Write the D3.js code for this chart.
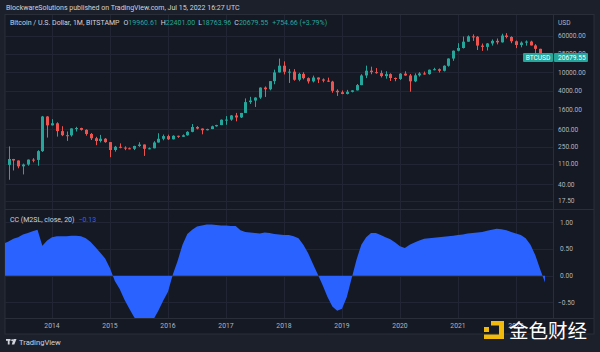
<!DOCTYPE html>
<html>
<head>
<meta charset="utf-8">
<script src="https://cdn.jsdelivr.net/npm/d3@7"></script>
<style>
    html, body { margin: 0; padding: 0; background: #1c202b; }
    svg { display: block; font-family: Roboto, "Open Sans", sans-serif; }
</style>
</head>
<body>
<div id="chart"></div>
<script>
// ---- data (monthly BTCUSD, Bitstamp, from 2013-04) ----
const firstCandle = "2013-04";
const opens = [
    104, 139, 129, 97, 106, 135, 133, 205, 1130,
    732, 810, 550, 450, 447, 628, 640, 586, 478, 387, 338, 378,
    320, 217, 254, 244, 236, 230, 264, 284, 230, 236, 314, 377,
    430, 368, 437, 416, 448, 531, 673, 624, 575, 609, 698, 742,
    964, 970, 1190, 1080, 1348, 2300, 2480, 2875, 4703, 4338, 6468, 9947,
    13850, 10265, 10320, 6925, 9240, 7495, 6390, 7730, 7025, 6625, 6320, 4017,
    3742, 3437, 3820, 4100, 5320, 8555, 10820, 10085, 9600, 8300, 9150, 7550,
    7195, 9350, 8545, 6410, 8625, 9450, 9135, 11350, 11650, 10780, 13800, 19700,
    28990, 33110, 45240, 58800, 57750, 37300, 35040, 41460, 47130, 43820, 61300, 57000,
    46200, 38480, 43190, 45530, 37640, 31790, 19960.61
];
const highs = [
    259, 140, 130, 111, 136, 145, 215, 1163, 1153,
    990, 850, 700, 540, 632, 680, 650, 600, 500, 415, 457, 390,
    320, 265, 300, 260, 245, 268, 318, 285, 246, 335, 495, 465,
    462, 448, 440, 467, 548, 780, 704, 628, 620, 720, 752, 975,
    1154, 1210, 1350, 1350, 2760, 2980, 2920, 4750, 4980, 6480, 11400, 19666,
    17150, 11790, 11690, 9760, 10020, 7780, 8500, 7760, 7400, 7680, 6575, 4310,
    4080, 4200, 4125, 5620, 9090, 13880, 13200, 12320, 10950, 10530, 9500, 7740,
    9580, 10500, 9200, 9470, 10080, 10380, 11450, 12480, 12100, 14100, 19880, 29300,
    41950, 58350, 61790, 64900, 59600, 41330, 42400, 50500, 52900, 67000, 69000, 59100,
    47990, 45850, 48200, 47440, 40000, 31950, 22401.00
];
const lows = [
    50, 79, 88, 65, 100, 118, 100, 197, 400,
    725, 420, 430, 340, 420, 540, 565, 440, 355, 275, 315, 310,
    152, 200, 236, 215, 225, 216, 253, 162, 225, 235, 312, 350,
    355, 365, 395, 412, 440, 520, 600, 470, 570, 606, 685, 740,
    752, 915, 891, 1050, 1345, 2100, 1810, 2690, 2970, 4110, 5550, 9900,
    9000, 5920, 6600, 6430, 7040, 5750, 6070, 5880, 6100, 6200, 3650, 3120,
    3400, 3360, 3715, 4080, 5300, 7500, 9090, 9350, 7750, 7300, 6515, 6430,
    6860, 8450, 3850, 6160, 8110, 8900, 8900, 10980, 9880, 10420, 13200, 17600,
    28130, 32300, 45000, 47040, 30000, 28800, 29300, 37330, 39600, 43290, 53250, 42000,
    32950, 34300, 37150, 37580, 25400, 17600, 18763.96
];
const closes = [
    139, 129, 97, 106, 135, 133, 205, 1130, 732,
    810, 550, 450, 447, 628, 640, 586, 478, 387, 338, 378, 320,
    217, 254, 244, 236, 230, 264, 284, 230, 236, 314, 377, 430,
    368, 437, 416, 448, 531, 673, 624, 575, 609, 698, 742, 964,
    970, 1190, 1080, 1348, 2300, 2480, 2875, 4703, 4338, 6468, 9947, 13850,
    10265, 10320, 6925, 9240, 7495, 6390, 7730, 7025, 6625, 6320, 4017, 3742,
    3437, 3820, 4100, 5320, 8555, 10820, 10085, 9600, 8300, 9150, 7550, 7195,
    9350, 8545, 6410, 8625, 9450, 9135, 11350, 11650, 10780, 13800, 19700, 28990,
    33110, 45240, 58800, 57750, 37300, 35040, 41460, 47130, 43820, 61300, 57000, 46200,
    38480, 43190, 45530, 37640, 31790, 19924.89, 20679.55
];

// CC(M2SL, close, 20), monthly from 2013-03
const firstCC = "2013-03";
const ccValues = [
    0.60, 0.64, 0.69, 0.72, 0.77, 0.80, 0.83, 0.86, 0.56, 0.66,
    0.72, 0.74, 0.74, 0.74, 0.75, 0.75, 0.74, 0.70, 0.63, 0.53,
    0.43, 0.32, 0.14, -0.10, -0.25, -0.45, -0.62, -0.78, -0.88, -0.92,
    -0.90, -0.82, -0.66, -0.47, -0.30, 0.02, 0.28, 0.58, 0.78, 0.86,
    0.92, 0.94, 0.96, 0.96, 0.95, 0.94, 0.94, 0.93, 0.93, 0.85,
    0.82, 0.81, 0.80, 0.79, 0.81, 0.80, 0.78, 0.77, 0.76, 0.76,
    0.74, 0.70, 0.58, 0.42, 0.22, 0.02, -0.18, -0.40, -0.58, -0.66,
    -0.62, -0.40, -0.05, 0.30, 0.58, 0.72, 0.80, 0.80, 0.76, 0.72,
    0.68, 0.62, 0.55, 0.52, 0.58, 0.62, 0.66, 0.69, 0.70, 0.71,
    0.72, 0.73, 0.74, 0.75, 0.76, 0.77, 0.79, 0.80, 0.81, 0.82,
    0.84, 0.86, 0.88, 0.87, 0.85, 0.82, 0.79, 0.76, 0.70, 0.58,
    0.38, 0.12, -0.13
];

const priceTicks = [60000, 25000, 10000, 4000, 1600, 600, 250, 110, 40, 17.5];
const ccTicks = [1, 0.5, 0, -0.5];
const yearLabels = ["2014", "2015", "2016", "2017", "2018", "2019", "2020", "2021", "2022"];

// ---- layout ----
const W = 600, H = 352;
const pane = { left: 5, right: 553, axisRight: 594 };
const pricePane = { top: 15, bottom: 209 };
const ccPane = { top: 210, bottom: 318 };
const timeAxisBottom = 334;

const up = "#26a69a", down = "#ef5350", ccBlue = "#2962ff";
const gridColor = "#222634", borderColor = "#2a2e39", textColor = "#b2b5be";

// month index 0 = 2013-03
const parseMonth = d3.utcParse("%Y-%m");
const monthIndex = s => d3.utcMonth.count(parseMonth(firstCC), parseMonth(s));
const candleStart = monthIndex(firstCandle);
const yearIndex = y => monthIndex(y + "-01");

const x = d3.scaleLinear()
    .domain([yearIndex("2014"), yearIndex("2021")])
    .range([52, 458]);

const yPrice = d3.scaleLog()
    .domain([10000, 60000])
    .range([72.3, 72.3 - Math.log10(6) * 46.7]);

const yCC = d3.scaleLinear()
    .domain([-0.5, 1])
    .range([302.3, 222.3]);

const svg = d3.select("#chart").append("svg")
    .attr("width", W)
    .attr("height", H);

// backgrounds
svg.append("rect").attr("width", W).attr("height", H).attr("fill", "#1c202b");
svg.append("rect")
    .attr("x", pane.left).attr("y", pricePane.top - 0.5)
    .attr("width", pane.axisRight - pane.left).attr("height", timeAxisBottom - pricePane.top + 0.5)
    .attr("fill", "#151924")
    .attr("stroke", borderColor);

const defs = svg.append("defs");
defs.append("clipPath").attr("id", "clip-price").append("rect")
    .attr("x", pane.left).attr("y", pricePane.top)
    .attr("width", pane.right - pane.left).attr("height", pricePane.bottom - pricePane.top);
defs.append("clipPath").attr("id", "clip-cc").append("rect")
    .attr("x", pane.left).attr("y", ccPane.top)
    .attr("width", pane.right - pane.left).attr("height", ccPane.bottom - ccPane.top);

// grid
const grid = svg.append("g").attr("stroke", gridColor).attr("stroke-width", 1);
yearLabels.forEach(y => {
    const xx = Math.round(x(yearIndex(y))) + 0.5;
    grid.append("line").attr("x1", xx).attr("x2", xx)
        .attr("y1", pricePane.top).attr("y2", ccPane.bottom);
});
priceTicks.forEach(t => {
    const yy = Math.round(yPrice(t)) + 0.5;
    grid.append("line").attr("x1", pane.left).attr("x2", pane.right).attr("y1", yy).attr("y2", yy);
});
ccTicks.forEach(t => {
    const yy = Math.round(yCC(t)) + 0.5;
    grid.append("line").attr("x1", pane.left).attr("x2", pane.right).attr("y1", yy).attr("y2", yy);
});

// pane separators
const sep = svg.append("g").attr("stroke", borderColor).attr("stroke-width", 1);
sep.append("line").attr("x1", pane.left).attr("x2", pane.axisRight)
    .attr("y1", pricePane.bottom + 0.5).attr("y2", pricePane.bottom + 0.5);
sep.append("line").attr("x1", pane.left).attr("x2", pane.axisRight)
    .attr("y1", ccPane.bottom + 0.5).attr("y2", ccPane.bottom + 0.5);
sep.append("line").attr("x1", pane.right + 0.5).attr("x2", pane.right + 0.5)
    .attr("y1", pricePane.top).attr("y2", ccPane.bottom);

// ---- candles ----
const candles = closes.map((c, i) => ({
    i: candleStart + i, o: opens[i], h: highs[i], l: lows[i], c: c
}));

const candleG = svg.append("g").attr("clip-path", "url(#clip-price)");
candleG.selectAll("line.wick")
    .data(candles)
    .join("line")
    .attr("class", "wick")
    .attr("x1", d => Math.round(x(d.i)) + 0.5)
    .attr("x2", d => Math.round(x(d.i)) + 0.5)
    .attr("y1", d => yPrice(d.h))
    .attr("y2", d => yPrice(d.l))
    .attr("stroke", d => d.c >= d.o ? up : down)
    .attr("stroke-width", 1);

candleG.selectAll("rect.body")
    .data(candles)
    .join("rect")
    .attr("class", "body")
    .attr("x", d => Math.round(x(d.i)) - 1)
    .attr("width", 3)
    .attr("y", d => yPrice(Math.max(d.o, d.c)))
    .attr("height", d => Math.max(1, Math.abs(yPrice(d.o) - yPrice(d.c))))
    .attr("fill", d => d.c >= d.o ? up : down);

// ---- CC area ----
const ccData = ccValues.map((v, i) => ({ i, v }));
svg.append("g").attr("clip-path", "url(#clip-cc)")
    .append("path")
    .datum(ccData)
    .attr("fill", ccBlue)
    .attr("d", d3.area()
        .x(d => x(d.i))
        .y0(yCC(0))
        .y1(d => yCC(d.v)));

// ---- axes ----
const axisFont = "6.6px";
const priceAxis = svg.append("g").attr("fill", textColor).style("font-size", axisFont);
priceTicks.forEach(t => {
    priceAxis.append("text")
        .attr("x", 558).attr("y", yPrice(t))
        .attr("dy", "0.35em")
        .text(t.toFixed(2));
});
priceAxis.append("text").attr("x", 558).attr("y", 22.5).attr("dy", "0.35em").text("USD");

const ccAxis = svg.append("g").attr("fill", textColor).style("font-size", axisFont);
ccTicks.forEach(t => {
    ccAxis.append("text")
        .attr("x", t < 0 ? 558 : 560).attr("y", yCC(t))
        .attr("dy", "0.35em")
        .text((t < 0 ? "\u2212" : "") + Math.abs(t).toFixed(2));
});

const timeAxis = svg.append("g").attr("fill", textColor).style("font-size", "6.8px")
    .attr("text-anchor", "middle");
yearLabels.forEach(y => {
    timeAxis.append("text")
        .attr("x", x(yearIndex(y))).attr("y", 326)
        .attr("dy", "0.35em")
        .text(y);
});

// ---- last price labels ----
const lastClose = closes[closes.length - 1];
const lastY = yPrice(lastClose);
svg.append("rect").attr("x", 523).attr("y", lastY - 4.5).attr("width", 30).attr("height", 9)
    .attr("rx", 1).attr("fill", up);
svg.append("text").attr("x", 538).attr("y", lastY).attr("dy", "0.35em")
    .attr("text-anchor", "middle").attr("fill", "#ffffff").style("font-size", "6.6px")
    .text("BTCUSD");
svg.append("rect").attr("x", 554).attr("y", lastY - 4.5).attr("width", 34).attr("height", 9)
    .attr("rx", 1).attr("fill", up);
svg.append("text").attr("x", 558).attr("y", lastY).attr("dy", "0.35em")
    .attr("fill", "#ffffff").style("font-size", "6.6px")
    .text(lastClose.toFixed(2));

// ---- header ----
svg.append("text").attr("x", 6).attr("y", 7.5).attr("dy", "0.35em")
    .attr("fill", "#d1d4dc").style("font-size", "7px")
    .text("BlockwareSolutions published on TradingView.com, Jul 15, 2022 16:27 UTC");

const n = closes.length;
const change = closes[n - 1] - closes[n - 2];
const pct = change / closes[n - 2] * 100;
const legend = svg.append("text").attr("x", 10).attr("y", 23).attr("dy", "0.35em")
    .style("font-size", "7px").attr("fill", "#d1d4dc");
legend.append("tspan").text("Bitcoin / U.S. Dollar, 1M, BITSTAMP");
[["O", opens[n - 1]], ["H", highs[n - 1]], ["L", lows[n - 1]], ["C", closes[n - 1]]].forEach(([k, v], j) => {
    legend.append("tspan").attr("dx", j === 0 ? 4 : 3).attr("fill", "#d1d4dc").text(k);
    legend.append("tspan").attr("fill", up).text(v.toFixed(2));
});
legend.append("tspan").attr("dx", 4).attr("fill", up)
    .text(`+${change.toFixed(2)} (+${pct.toFixed(2)}%)`);

// CC legend
const ccLegend = svg.append("text").attr("x", 10).attr("y", 220).attr("dy", "0.35em")
    .style("font-size", "7px").attr("fill", "#d1d4dc");
ccLegend.append("tspan").text("CC (M2SL, close, 20)");
ccLegend.append("tspan").attr("dx", 4).attr("fill", ccBlue)
    .text("\u2212" + Math.abs(ccValues[ccValues.length - 1]).toFixed(2));

// ---- footer: TradingView logo ----
const logo = svg.append("g").attr("transform", "translate(6,339)").attr("fill", "#d1d4dc");
logo.append("rect").attr("x", 0).attr("y", 0).attr("width", 4.5).attr("height", 1.8);
logo.append("rect").attr("x", 1.8).attr("y", 0).attr("width", 1.8).attr("height", 5.5);
logo.append("circle").attr("cx", 6.2).attr("cy", 1.2).attr("r", 1);
logo.append("path").attr("d", "M7.5,0 L10.5,0 L8.3,5.5 L5.8,5.5 Z");
svg.append("text").attr("x", 19).attr("y", 342).attr("dy", "0.35em")
    .attr("fill", "#d1d4dc").style("font-size", "7.6px")
    .text("TradingView");

// ---- watermark ----
const wm = svg.append("g").attr("fill", "#f0b90b");
wm.append("rect").attr("x", 484).attr("y", 327).attr("width", 5).attr("height", 5);
wm.append("path").attr("d", "M491,321 L504,321 L504,339 L484,339 L484,334.5 L499,334.5 L499,325.5 L491,325.5 Z");
svg.append("text").attr("x", 509).attr("y", 331).attr("dy", "0.35em")
    .attr("fill", "#ffffff").style("font-size", "19.5px")
    .style("font-family", "'Noto Sans CJK SC', sans-serif")
    .text("金色财经");
</script>
</body>
</html>
